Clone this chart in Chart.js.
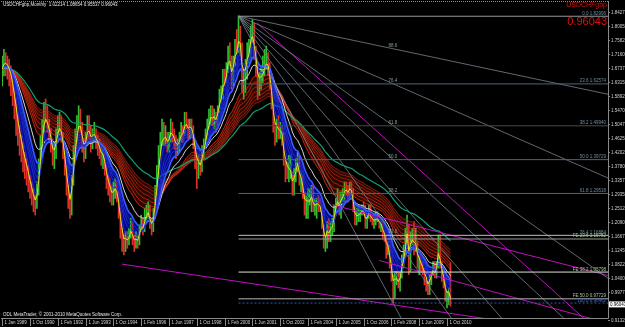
<!DOCTYPE html>
<html>
<head>
<meta charset="utf-8">
<script src="https://cdn.jsdelivr.net/npm/chart.js@4.4.1/dist/chart.umd.min.js"></script>
<style>
html, body { margin: 0; padding: 0; background: #000; }
canvas { display: block; }
</style>
</head>
<body>
<canvas id="chart" width="625" height="327"></canvas>
<script>
// ---- data (bar index = position on the MT4 time axis) ----
const xLabels = ['1 Jan 1989', '1 Oct 1990', '1 Feb 1992', '1 Jun 1993', '1 Oct 1994', '1 Feb 1996',
  '1 Jun 1997', '1 Oct 1998', '1 Feb 2000', '1 Jun 2001', '1 Oct 2002', '1 Feb 2004', '1 Jun 2005',
  '1 Oct 2006', '1 Feb 2008', '1 Jun 2009', '1 Oct 2010'];
const xLabelBars = [0, 16, 32, 48, 64, 80, 96, 112, 128, 144, 160, 176, 192, 208, 224, 240, 256];

const yTicks = [1.84275, 1.80050, 1.75825, 1.71600, 1.67375, 1.63150, 1.58925, 1.54700, 1.50475,
  1.46250, 1.42025, 1.37800, 1.33575, 1.29350, 1.25125, 1.20900, 1.16675, 1.12450, 1.08225,
  1.04000, 0.99775, 0.95550, 0.91325];

const closes = [
  1.67,1.70,1.69,1.68,1.66,1.64,1.60,1.56,1.52,1.48,
  1.45,1.43,1.40,1.38,1.36,1.34,1.31,1.29,1.27,1.26,
  1.30,1.38,1.45,1.50,1.55,1.54,1.50,1.47,1.44,1.40,
  1.42,1.47,1.50,1.51,1.47,1.42,1.37,1.31,1.27,1.24,
  1.33,1.42,1.47,1.51,1.53,1.50,1.44,1.42,1.45,1.51,
  1.49,1.45,1.47,1.48,1.45,1.44,1.42,1.40,1.41,1.37,
  1.33,1.31,1.30,1.28,1.30,1.32,1.29,1.24,1.18,1.15,
  1.13,1.16,1.15,1.17,1.20,1.16,1.14,1.16,1.15,1.19,
  1.21,1.19,1.23,1.24,1.25,1.20,1.19,1.23,1.30,1.36,
  1.42,1.46,1.49,1.47,1.47,1.44,1.46,1.50,1.47,1.45,
  1.43,1.44,1.46,1.49,1.48,1.52,1.51,1.48,1.50,1.49,
  1.45,1.40,1.37,1.38,1.37,1.42,1.45,1.47,1.51,1.52,
  1.55,1.52,1.53,1.51,1.55,1.59,1.60,1.65,1.64,1.67,
  1.73,1.70,1.63,1.69,1.74,1.73,1.79,1.74,1.62,1.65,
  1.67,1.73,1.73,1.79,1.79,1.72,1.67,1.61,1.63,1.65,
  1.66,1.69,1.70,1.68,1.62,1.56,1.49,1.47,1.49,1.48,
  1.48,1.47,1.38,1.37,1.36,1.36,1.36,1.30,1.35,1.38,
  1.41,1.33,1.33,1.29,1.24,1.27,1.27,1.27,1.30,1.25,
  1.25,1.27,1.26,1.25,1.20,1.14,1.14,1.20,1.17,1.20,
  1.20,1.25,1.28,1.29,1.25,1.29,1.29,1.32,1.31,1.29,
  1.32,1.30,1.24,1.20,1.22,1.23,1.24,1.25,1.24,1.20,
  1.22,1.25,1.22,1.21,1.21,1.22,1.22,1.20,1.20,1.17,
  1.16,1.12,1.13,1.08,1.04,0.99,1.04,1.04,1.02,1.05,
  1.10,1.12,1.16,1.22,1.07,1.16,1.17,1.14,1.14,1.08,
  1.09,1.07,1.06,1.04,1.03,1.00,1.04,1.06,1.08,1.05,
  1.08,1.16,1.08,1.04,1.02,0.98,0.98,1.00,0.96043
];
const highs = [
  1.71,1.73,1.72,1.71,1.70,1.68,1.65,1.61,1.58,1.53,
  1.50,1.47,1.45,1.42,1.40,1.38,1.35,1.33,1.31,1.29,
  1.33,1.40,1.47,1.52,1.57,1.58,1.56,1.52,1.49,1.46,
  1.45,1.49,1.53,1.54,1.53,1.48,1.43,1.38,1.32,1.29,
  1.35,1.44,1.49,1.53,1.56,1.55,1.51,1.46,1.48,1.53,
  1.53,1.50,1.49,1.51,1.49,1.47,1.46,1.44,1.43,1.42,
  1.38,1.35,1.34,1.32,1.33,1.34,1.33,1.30,1.25,1.19,
  1.17,1.18,1.18,1.19,1.22,1.21,1.17,1.18,1.17,1.20,
  1.23,1.22,1.25,1.26,1.27,1.26,1.22,1.25,1.32,1.38,
  1.44,1.48,1.52,1.51,1.50,1.48,1.48,1.52,1.51,1.49,
  1.47,1.46,1.48,1.51,1.50,1.54,1.54,1.52,1.52,1.52,
  1.50,1.46,1.41,1.41,1.40,1.44,1.46,1.49,1.52,1.55,
  1.56,1.56,1.55,1.54,1.56,1.61,1.62,1.67,1.67,1.69,
  1.74,1.75,1.71,1.71,1.76,1.79,1.8306,1.80,1.75,1.67,
  1.70,1.75,1.76,1.80,1.82,1.81,1.74,1.69,1.66,1.68,
  1.71,1.73,1.74,1.72,1.69,1.63,1.57,1.51,1.52,1.53,
  1.51,1.50,1.48,1.40,1.39,1.41,1.41,1.36,1.37,1.40,
  1.42,1.41,1.36,1.35,1.30,1.29,1.31,1.31,1.32,1.32,
  1.28,1.28,1.29,1.28,1.26,1.20,1.16,1.21,1.22,1.21,
  1.22,1.26,1.28,1.31,1.30,1.30,1.31,1.33,1.33,1.32,
  1.33,1.33,1.31,1.26,1.25,1.26,1.25,1.26,1.27,1.26,
  1.23,1.26,1.26,1.23,1.23,1.24,1.24,1.23,1.22,1.21,
  1.18,1.17,1.15,1.14,1.10,1.05,1.06,1.06,1.06,1.06,
  1.11,1.14,1.19,1.23,1.20,1.18,1.19,1.21,1.19,1.15,
  1.11,1.11,1.09,1.07,1.04,1.03,1.05,1.06,1.09,1.09,
  1.09,1.17,1.17,1.09,1.05,1.03,1.00,1.01,1.0865
];
const lows = [
  1.62,1.65,1.65,1.64,1.62,1.59,1.56,1.52,1.47,1.44,
  1.41,1.39,1.36,1.34,1.32,1.30,1.28,1.26,1.24,1.23,
  1.25,1.29,1.37,1.43,1.48,1.51,1.48,1.45,1.42,1.38,
  1.37,1.40,1.45,1.47,1.45,1.40,1.35,1.29,1.25,1.22,
  1.23,1.32,1.40,1.45,1.49,1.48,1.42,1.39,1.40,1.44,
  1.46,1.42,1.43,1.45,1.43,1.41,1.40,1.38,1.37,1.35,
  1.31,1.29,1.27,1.26,1.26,1.28,1.27,1.22,1.16,1.12,
  1.11,1.12,1.13,1.14,1.16,1.14,1.12,1.13,1.13,1.14,
  1.18,1.17,1.18,1.21,1.22,1.19,1.17,1.18,1.22,1.29,
  1.34,1.41,1.44,1.44,1.44,1.42,1.42,1.45,1.45,1.43,
  1.40,1.41,1.42,1.45,1.45,1.47,1.49,1.46,1.46,1.47,
  1.43,1.37,1.31,1.34,1.35,1.36,1.40,1.43,1.46,1.49,
  1.50,1.50,1.49,1.48,1.50,1.54,1.57,1.58,1.62,1.63,
  1.66,1.68,1.61,1.62,1.68,1.72,1.72,1.71,1.60,1.58,
  1.60,1.64,1.69,1.70,1.75,1.70,1.65,1.58,1.59,1.61,
  1.63,1.65,1.67,1.65,1.61,1.55,1.48,1.44,1.45,1.46,
  1.46,1.44,1.38,1.33,1.34,1.33,1.34,1.29,1.29,1.33,
  1.36,1.32,1.30,1.28,1.23,1.22,1.22,1.26,1.24,1.24,
  1.23,1.22,1.24,1.24,1.19,1.13,1.12,1.13,1.15,1.15,
  1.17,1.18,1.23,1.26,1.23,1.22,1.27,1.27,1.29,1.27,
  1.28,1.29,1.24,1.20,1.20,1.21,1.21,1.23,1.23,1.19,
  1.19,1.22,1.21,1.20,1.19,1.20,1.21,1.19,1.18,1.16,
  1.15,1.10,1.11,1.07,1.03,0.9638,0.98,1.02,1.01,1.00,
  1.04,1.07,1.10,1.14,1.05,1.06,1.14,1.11,1.12,1.07,
  1.05,1.06,1.05,1.02,1.00,0.99,0.99,1.02,1.05,1.04,
  1.04,1.07,1.07,1.03,1.01,0.97,0.95,0.96,0.95537
];

// moving average ribbons (EMA periods)
const blueFast = [3];
const blueBand = [5, 8, 10, 12];
const blueSlow = [15];
const whitePeriod = [21];
const redRibbon = [30, 35, 40, 45, 50, 55, 60];
const greenPeriod = [75];

// fibonacci objects
const fibBar = 136, fibTop = 1.82996, fibBottom = 0.96462;
const fibLevels = [0, 23.6, 38.2, 50.0, 61.8, 76.4, 100.0];
const fibColors = ['#9a9a9a', '#4f6478', '#4a4a4a', '#4f6478', '#4f6478', '#bdbdbd', '#3858a8'];
const feStartBar = 136, feBase = 1.31920, feRange = 0.68381;
const feLevels = [23.6, 38.2, 50.0];
const feColors = ['#9a9a9a', '#d6e6d0', '#b4b4b4'];
const fanApex = [136, 1.8306], fanEnd = [225, 0.9638];
const fanLevels = [0, 23.6, 38.2, 50.0, 61.8, 76.4, 88.6];
const magentaLines = [
  [69, 1.082, 252, 0.938],
  [190, 1.261, 332, 1.070],
  [146.6, 1.810, 200.2, 1.556],
  [217, 1.093, 340, 0.916]
];
const lastPrice = 0.96043;

// ---- helpers ----
function ema(src, n) {
  const k = 2 / (n + 1);
  const out = [];
  let prev = src[0];
  src.forEach((v, i) => {
    prev = i === 0 ? v : v * k + prev * (1 - k);
    out.push({ x: i, y: prev });
  });
  return out;
}

const xMin = -0.115, xMax = 348.66;
const yMin = 0.91941, yMax = 1.86689;

function lineDs(data, color, width, order, extra) {
  return Object.assign({
    type: 'line', data: data, borderColor: color, borderWidth: width,
    pointRadius: 0, fill: false, order: order, tension: 0
  }, extra || {});
}

function ray(b1, p1, b2, p2) {
  const slope = (p2 - p1) / (b2 - b1);
  return [{ x: b1, y: p1 }, { x: xMax + 5, y: p1 + slope * (xMax + 5 - b1) }];
}

const datasets = [];

// bars
datasets.push({
  type: 'bar',
  data: closes.map((c, i) => ({ x: i, y: [lows[i], highs[i]] })),
  backgroundColor: closes.map((c, i) => (i === 0 || c >= closes[i - 1]) ? '#2fbf2f' : '#e0302a'),
  barThickness: 1,
  borderWidth: 0,
  grouped: false,
  order: 50
});

// red ribbon, first one carries the dark red fill to the last one
const redStart = datasets.length;
redRibbon.forEach((p, i) => {
  const shade = ['#f03010', '#e02c10', '#d02a10', '#c42a10', '#b82810', '#ac2610', '#a02410'][i];
  datasets.push(lineDs(ema(closes, p), shade, 0.8, 40));
});
datasets[redStart].fill = { target: redStart + redRibbon.length - 1 };
datasets[redStart].backgroundColor = 'rgba(60,10,0,0.75)';

datasets.push(lineDs(ema(closes, greenPeriod[0]), '#12a070', 1.2, 39));
datasets.push(lineDs(ema(closes, whitePeriod[0]), '#d8d8d8', 1, 30));

const slowIdx = datasets.length;
datasets.push(lineDs(ema(closes, blueSlow[0]), '#3a5cff', 1.6, 20));
blueBand.forEach(p => datasets.push(lineDs(ema(closes, p), '#1c2cc8', 1, 21)));
datasets.push(lineDs(ema(closes, blueFast[0]), '#e8e020', 1, 10, {
  fill: { target: slowIdx }, backgroundColor: 'rgba(6,10,150,0.9)'
}));

// fibonacci retracement lines (rays to the right)
fibLevels.forEach((lv, i) => {
  const p = fibTop - (fibTop - fibBottom) * lv / 100;
  datasets.push(lineDs([{ x: fibBar, y: p }, { x: xMax + 5, y: p }], fibColors[i], 1, 2,
    lv === 100 ? { borderDash: [2, 2] } : {}));
});
feLevels.forEach((lv, i) => {
  const p = feBase - feRange * lv / 100;
  datasets.push(lineDs([{ x: feStartBar, y: p }, { x: xMax + 5, y: p }], feColors[i], 1, 2));
});
// fibonacci fan
fanLevels.forEach(lv => {
  const p = fanEnd[1] + (fanApex[1] - fanEnd[1]) * lv / 100;
  datasets.push(lineDs(ray(fanApex[0], fanApex[1], fanEnd[0], p), '#76838f', 0.8, 3));
});
// magenta trend lines
magentaLines.forEach(m => {
  datasets.push(lineDs(ray(m[0], m[1], m[2], m[3]), '#c010c0', 1, 3));
});

// ---- text / axes drawn from the chart's own scales ----
const mtOverlay = {
  id: 'mtOverlay',
  beforeDraw(chart) {
    const ctx = chart.ctx;
    ctx.save();
    ctx.fillStyle = '#000';
    ctx.fillRect(0, 0, chart.width, chart.height);
    ctx.restore();
  },
  afterDraw(chart) {
    const { ctx, chartArea: a, scales: { x, y } } = chart;
    ctx.save();
    ctx.font = '4.5px "Liberation Sans", Arial, sans-serif';
    ctx.textBaseline = 'middle';

    // frame
    ctx.strokeStyle = '#8a8a8a';
    ctx.lineWidth = 1;
    ctx.beginPath();
    ctx.moveTo(a.right + 0.5, a.top - 3);
    ctx.lineTo(a.right + 0.5, a.bottom + 0.5);
    ctx.lineTo(1, a.bottom + 0.5);
    ctx.stroke();
    ctx.setLineDash([1, 1]);
    ctx.beginPath();
    ctx.moveTo(1, 1.5);
    ctx.lineTo(a.right, 1.5);
    ctx.stroke();
    ctx.setLineDash([]);

    // price axis
    const lastY = y.getPixelForValue(lastPrice);
    ctx.fillStyle = '#d0d0d0';
    ctx.textAlign = 'left';
    yTicks.forEach(v => {
      const py = Math.round(y.getPixelForValue(v)) + 0.5;
      if (Math.abs(py - lastY) < 6) return;
      ctx.beginPath();
      ctx.moveTo(a.right, py);
      ctx.lineTo(a.right + 2, py);
      ctx.stroke();
      ctx.fillText(v.toFixed(5), a.right + 3, py);
    });
    ctx.fillStyle = '#ffffff';
    ctx.fillRect(a.right + 1, lastY - 3, chart.width - a.right - 1, 6);
    ctx.fillStyle = '#000';
    ctx.fillText(lastPrice.toFixed(5), a.right + 2, lastY);

    // time axis
    ctx.fillStyle = '#d0d0d0';
    xLabelBars.forEach((b, i) => {
      const px = Math.round(x.getPixelForValue(b)) + 0.5;
      ctx.beginPath();
      ctx.moveTo(px, a.bottom + 1);
      ctx.lineTo(px, a.bottom + 8);
      ctx.stroke();
      ctx.fillText(xLabels[i], px + 2, a.bottom + 5);
    });

    // fib labels
    ctx.textAlign = 'right';
    ctx.textBaseline = 'bottom';
    fibLevels.forEach((lv, i) => {
      const p = fibTop - (fibTop - fibBottom) * lv / 100;
      ctx.fillStyle = lv === 100 ? '#4a6ac0' : '#6f8fa0';
      ctx.fillText(lv.toFixed(1) + ' ' + p.toFixed(5), a.right - 2, y.getPixelForValue(p) - 0.5);
    });
    feLevels.forEach(lv => {
      const p = feBase - feRange * lv / 100;
      ctx.fillStyle = '#a8c890';
      ctx.fillText('FE ' + lv.toFixed(1) + ' ' + p.toFixed(5), a.right - 2, y.getPixelForValue(p) - 0.5);
    });
    ctx.fillStyle = '#8a9aa0';
    fanLevels.forEach(lv => {
      if (lv === 0) return;
      const p = fanEnd[1] + (fanApex[1] - fanEnd[1]) * lv / 100;
      ctx.fillText(lv.toFixed(1), x.getPixelForValue(fanEnd[0]) + 4, y.getPixelForValue(p) - 1);
    });

    // header texts
    ctx.textAlign = 'left';
    ctx.textBaseline = 'top';
    ctx.fillStyle = '#e8e8e8';
    ctx.fillText('USDCHFgbp,Monthly  1.02214 1.08654 0.95537 0.96043', 3, 3);
    ctx.textBaseline = 'bottom';
    ctx.fillText('ODL MetaTrader, \u00a9 2001-2010 MetaQuotes Software Corp.', 3, a.bottom - 1);

    ctx.textAlign = 'right';
    ctx.textBaseline = 'top';
    ctx.fillStyle = '#c81818';
    ctx.font = '7px "Liberation Sans", Arial, sans-serif';
    ctx.fillText('USDCHFgbp', a.right - 1, 2);
    ctx.font = '11px "Liberation Sans", Arial, sans-serif';
    ctx.fillStyle = '#e01010';
    ctx.fillText('0.96043', a.right - 1, 16);
    ctx.restore();
  }
};

new Chart(document.getElementById('chart'), {
  type: 'line',
  data: { datasets: datasets },
  options: {
    responsive: false,
    animation: false,
    events: [],
    layout: { padding: { left: 2, top: 4, right: 17, bottom: 9 } },
    plugins: {
      legend: { display: false },
      tooltip: { enabled: false },
      filler: { drawTime: 'beforeDatasetsDraw' }
    },
    scales: {
      x: { type: 'linear', display: false, min: xMin, max: xMax, offset: false },
      y: { type: 'linear', display: false, min: yMin, max: yMax }
    }
  },
  plugins: [mtOverlay]
});
</script>
</body>
</html>
